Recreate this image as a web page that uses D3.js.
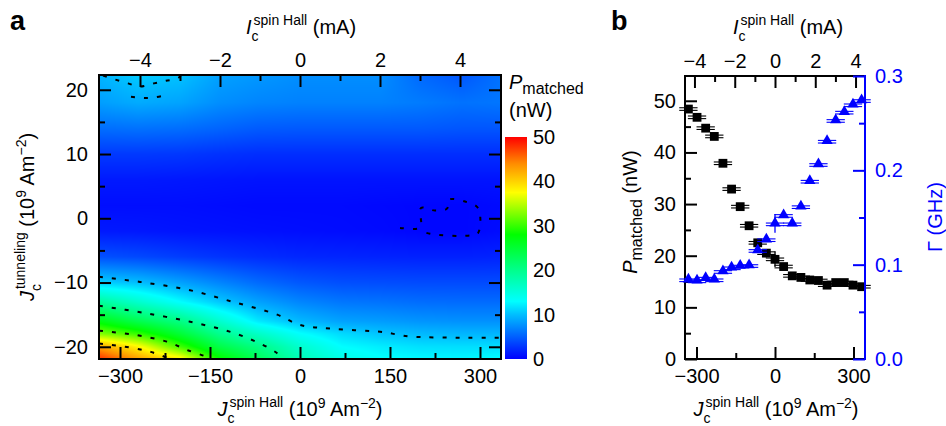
<!DOCTYPE html>
<html><head><meta charset="utf-8">
<script src="https://cdn.jsdelivr.net/npm/d3@7"></script>
<style>
body{margin:0;background:#fff;}
svg{display:block;}
</style></head><body>
<svg id="chart" width="946" height="426"></svg>
<script>
// ---------------- Panel a data ----------------
const jshGrid = [-335, -270, -200, -135, -70, 0, 70, 135, 200, 270, 335];
const jtunGrid = [22.3, 18, 14, 10, 6, 2, -2, -6, -10, -13, -16, -18, -20, -21.9];
const powerGrid = [
  [9.5, 10.6, 10.2, 8.5, 8, 7.5, 7.5, 7.5, 5.5, 4.5, 6],
  [8.3, 9.0, 8.6, 7.5, 7.0, 6.8, 6.8, 6.8, 6.5, 6.0, 6.2],
  [5.8, 6.0, 5.8, 5.3, 4.8, 4.7, 4.7, 4.7, 4.7, 4.5, 4.5],
  [3.0, 3.0, 2.9, 2.6, 2.4, 2.4, 2.4, 2.4, 2.4, 2.4, 2.4],
  [1.3, 1.3, 1.2, 1.1, 1.0, 1.0, 1.0, 1.0, 1.0, 1.0, 1.0],
  [0.7, 0.7, 0.7, 0.6, 0.5, 0.5, 0.5, 0.4, 0.3, 0.3, 0.5],
  [1.3, 1.2, 1.0, 0.9, 0.8, 0.7, 0.6, 0.5, 0.3, 0.3, 0.6],
  [4.2, 3.8, 3.2, 2.7, 2.3, 2.0, 1.9, 1.8, 1.7, 1.7, 1.8],
  [10.8, 10, 8.5, 7.0, 5.6, 4.6, 4.1, 4.0, 3.9, 3.9, 3.9],
  [19, 16, 13, 10.5, 8.5, 7, 6.2, 6, 5.7, 5.6, 5.6],
  [27, 23.5, 20.5, 16, 12, 9.7, 8.5, 8.2, 7.8, 7.6, 7.6],
  [33, 30, 25, 20, 16.5, 13.2, 11.3, 10.3, 9.8, 9.6, 9.6],
  [43, 38, 30.5, 24, 20.5, 16, 13, 12.2, 11.6, 11.5, 11.5],
  [48, 43, 38.5, 28.5, 23, 17.5, 14.5, 13.2, 12.8, 12.6, 13]
];
// dashed contour lines (J_spinHall, J_tunneling)
const contourTopA = [[-328.3,22.2],[-308.3,21.6],[-286.7,21.0],[-266.7,20.5],[-243.3,21.0],[-223.3,21.4],[-203.3,21.8],[-198.3,22.3]];
const contourTopB = [[-281.7,18.9],[-263.3,18.75],[-246.7,18.75],[-226.7,19.1]];
const contourLoop = [[166.7,-1.5],[196.7,-1.6],[201.7,-1.2],[201.7,1.6],[225,1.2],[245,1.5],[248.3,2.9],[275,2.6],[296.7,1.6],[296.7,-2.3],[280,-2.7],[216.7,-2.4],[196.7,-1.8]];
const contour10 = [[-335,-9.1],[-266.7,-9.9],[-188,-11.1],[-112,-13.0],[-38,-15.0],[0,-16.6],[55,-17.2],[138,-17.7],[162,-18.1],[183,-18.4],[278,-18.6],[335,-18.6]];
const contour20 = [[-335,-13.6],[-262,-14.7],[-183,-16.1],[-112,-17.8],[-62,-19.7],[-38,-21.0],[-28,-21.9]];
const contour30 = [[-335,-17.5],[-278,-18.1],[-222,-19.2],[-188,-20.5],[-155,-21.6],[-150,-21.9]];
const contour40 = [[-335,-19.5],[-278,-20.2],[-245,-20.9],[-222,-21.7],[-217,-21.9]];

const aXTicks = [-300, -150, 0, 150, 300];
const aXMinor = [-225, -75, 75, 225];
const aTopTicks = [-4, -2, 0, 2, 4];
const aTopMinor = [-3, -1, 1, 3];
const aYTicks = [-20, -10, 0, 10, 20];
const aYMinor = [-15, -5, 5, 15];
const cbTicks = [0, 10, 20, 30, 40, 50];
const cbStops = [0, 10, 13, 20, 28, 37.5, 44, 50];
const cbColors = ["#0000ff", "#00beff", "#00ffff", "#00ff8c", "#00ff00", "#ffff00", "#ff8c00", "#ff0000"];

// ---------------- Panel b data ----------------
const jSpinHall = [-331, -298, -265, -232, -199, -166, -133, -99, -66, -33, 0, 33, 66, 99, 133, 166, 199, 232, 265, 298, 331];
const pMatched = [48.4, 46.8, 44.7, 43.1, 37.9, 32.9, 29.5, 25.8, 22.5, 20.5, 19.3, 17.9, 16.1, 15.8, 15.3, 15.2, 14.3, 14.8, 14.8, 14.3, 14.0];
const pErr = [0.3, 0.3, 0.3, 0.3, 0.3, 0.3, 0.3, 0.3, 0.4, 0.8, 1.5, 0.4, 0.3, 0.3, 0.3, 0.3, 0.3, 0.3, 0.3, 0.3, 0.3];
const gammaGHz = [0.0845, 0.0834, 0.0862, 0.0845, 0.0933, 0.0972, 0.099, 0.0996, 0.1156, 0.127, 0.1438, 0.1527, 0.1438, 0.162, 0.189, 0.2067, 0.2314, 0.2534, 0.2622, 0.270, 0.2745];
const gammaErr = [0.002, 0.002, 0.002, 0.002, 0.002, 0.002, 0.002, 0.002, 0.002, 0.003, 0.01, 0.003, 0.002, 0.002, 0.002, 0.002, 0.002, 0.002, 0.002, 0.002, 0.002];
const jErr = [35, 35, 35, 35, 35, 35, 35, 35, 35, 35, 35, 35, 35, 35, 35, 35, 35, 35, 35, 35, 35];

const bXTicks = [-300, 0, 300];
const bXMinor = [-150, 150];
const bTopTicks = [-4, -2, 0, 2, 4];
const bTopMinor = [-3, -1, 1, 3];
const bYTicks = [0, 10, 20, 30, 40, 50];
const bYMinor = [5, 15, 25, 35, 45];
const bRTicks = [0, 0.1, 0.2, 0.3];
const bRMinor = [0.05, 0.15, 0.25];

// ---------------- Setup ----------------
const FONT = "'Liberation Sans', Arial, Helvetica, sans-serif";
const BLUE = "#0000ff";
const svg = d3.select("#chart");

function rich(parent, x, y, parts, opt = {}) {
  const t = parent.append("text")
    .attr("text-anchor", opt.anchor || "middle")
    .attr("font-size", opt.size || 20)
    .attr("fill", opt.fill || "#000")
    .attr("font-family", FONT);
  if (opt.rotate) t.attr("transform", `translate(${x},${y}) rotate(${opt.rotate})`);
  else t.attr("x", x).attr("y", y);
  let cur = 0;
  parts.forEach(p => {
    const off = p.off || 0;
    const ts = t.append("tspan").text(p.t).attr("dy", off - cur);
    cur = off;
    if (p.size) ts.attr("font-size", p.size);
    if (p.italic) ts.attr("font-style", "italic");
    if (p.dx) ts.attr("dx", p.dx);
  });
  return t;
}

function styleAxis(g, color, size) {
  g.select(".domain").remove();
  g.selectAll("line").attr("stroke", color).attr("stroke-width", 2);
  g.selectAll("text").attr("fill", color).attr("font-size", size || 20).attr("font-family", FONT);
  g.attr("font-family", FONT);
}

function axisPair(parent, gen, scale, major, minor, transform, color, fmt, pad, majorLen, minorLen) {
  const g1 = parent.append("g").attr("transform", transform)
    .call(gen(scale).tickValues(major).tickSize(-majorLen).tickPadding(pad).tickFormat(fmt));
  styleAxis(g1, color);
  if (minor && minor.length) {
    const g2 = parent.append("g").attr("transform", transform)
      .call(gen(scale).tickValues(minor).tickSize(-minorLen).tickFormat(""));
    styleAxis(g2, color);
  }
}

// ---------------- Panel a ----------------
const aL = 99, aR = 501, aT = 75, aB = 359;
const xA = d3.scaleLinear().domain([-335, 335]).range([aL, aR]);
const xATop = d3.scaleLinear().domain([-5.025, 5.025]).range([aL, aR]);
const yA = d3.scaleLinear().domain([-21.9, 22.3]).range([aB, aT]);
const color = d3.scaleLinear().domain(cbStops).range(cbColors).clamp(true);

function interpGrid(x, y) {
  let c = 0;
  while (c < jshGrid.length - 2 && x > jshGrid[c + 1]) c++;
  let r = 0;
  while (r < jtunGrid.length - 2 && y < jtunGrid[r + 1]) r++;
  const tx = Math.max(0, Math.min(1, (x - jshGrid[c]) / (jshGrid[c + 1] - jshGrid[c])));
  const ty = Math.max(0, Math.min(1, (y - jtunGrid[r]) / (jtunGrid[r + 1] - jtunGrid[r])));
  const v00 = powerGrid[r][c], v01 = powerGrid[r][c + 1];
  const v10 = powerGrid[r + 1][c], v11 = powerGrid[r + 1][c + 1];
  return (v00 * (1 - tx) + v01 * tx) * (1 - ty) + (v10 * (1 - tx) + v11 * tx) * ty;
}

const W = aR - aL, H = aB - aT;
const canvas = document.createElement("canvas");
canvas.width = W; canvas.height = H;
const ctx = canvas.getContext("2d");
const img = ctx.createImageData(W, H);
for (let j = 0; j < H; j++) {
  const yv = yA.invert(aT + j + 0.5);
  for (let i = 0; i < W; i++) {
    const xv = xA.invert(aL + i + 0.5);
    const c = d3.rgb(color(interpGrid(xv, yv)));
    const k = (j * W + i) * 4;
    img.data[k] = c.r; img.data[k + 1] = c.g; img.data[k + 2] = c.b; img.data[k + 3] = 255;
  }
}
ctx.putImageData(img, 0, 0);
svg.append("image").attr("x", aL).attr("y", aT).attr("width", W).attr("height", H)
  .attr("preserveAspectRatio", "none").attr("href", canvas.toDataURL());

svg.append("clipPath").attr("id", "clipA").append("rect").attr("x", aL).attr("y", aT).attr("width", W).attr("height", H);
const contourLine = d3.line().x(d => xA(d[0])).y(d => yA(d[1])).curve(d3.curveCatmullRom);
const cg = svg.append("g").attr("clip-path", "url(#clipA)");
[contourTopA, contourTopB, contourLoop, contour10, contour20, contour30, contour40].forEach(c => {
  cg.append("path").attr("d", contourLine(c)).attr("fill", "none").attr("stroke", "#000")
    .attr("stroke-width", 2).attr("stroke-dasharray", "4,9");
});

const fmtInt = d3.format("d");
axisPair(svg, d3.axisBottom, xA, aXTicks, aXMinor, `translate(0,${aB})`, "#000", fmtInt, 10, 12, 6);
axisPair(svg, d3.axisTop, xATop, aTopTicks, aTopMinor, `translate(0,${aT})`, "#000", fmtInt, 8, 12, 6);
axisPair(svg, d3.axisLeft, yA, aYTicks, aYMinor, `translate(${aL},0)`, "#000", fmtInt, 11, 12, 6);
axisPair(svg, d3.axisRight, yA, aYTicks, aYMinor, `translate(${aR},0)`, "#000", () => "", 0, 12, 6);
svg.append("rect").attr("x", aL).attr("y", aT).attr("width", W).attr("height", H)
  .attr("fill", "none").attr("stroke", "#000").attr("stroke-width", 2);

// colorbar
const cbL = 505, cbW = 22, cbT = 137, cbB = 359;
const cbScale = d3.scaleLinear().domain([0, 50]).range([cbB, cbT]);
const grad = svg.append("defs").append("linearGradient").attr("id", "cbGrad")
  .attr("x1", 0).attr("y1", 1).attr("x2", 0).attr("y2", 0);
cbStops.forEach((s, i) => grad.append("stop").attr("offset", s / 50).attr("stop-color", cbColors[i]));
svg.append("rect").attr("x", cbL).attr("y", cbT).attr("width", cbW).attr("height", cbB - cbT).attr("fill", "url(#cbGrad)");
const cbAxis = svg.append("g").attr("transform", `translate(${cbL + cbW},0)`)
  .call(d3.axisRight(cbScale).tickValues(cbTicks).tickSize(0).tickPadding(6).tickFormat(fmtInt));
styleAxis(cbAxis, "#000");

rich(svg, 509, 89, [{t: "P", italic: true}, {t: "matched", off: 5, size: 16}], {anchor: "start"});
rich(svg, 509, 117, [{t: "(nW)"}], {anchor: "start"});

// titles
const titleI = [{t: "I", italic: true}, {t: "c", off: 6.5, size: 14}, {t: "spin Hall", off: -9.5, size: 14, dx: -5}, {t: " (mA)", off: 0}];
const titleJsh = [{t: "J", italic: true}, {t: "c", off: 6.5, size: 14}, {t: "spin Hall", off: -9.5, size: 14, dx: -5},
  {t: " (10", off: 0}, {t: "9", off: -8, size: 14}, {t: " Am", off: 0}, {t: "\u22122", off: -8, size: 14}, {t: ")", off: 0}];
const titleJtun = [{t: "J", italic: true}, {t: "c", off: 6.5, size: 14}, {t: "tunneling", off: -9.5, size: 14, dx: -5},
  {t: " (10", off: 0}, {t: "9", off: -8, size: 14}, {t: " Am", off: 0}, {t: "\u22122", off: -8, size: 14}, {t: ")", off: 0}];

rich(svg, 301, 34, titleI);
rich(svg, 300, 416, titleJsh);
rich(svg, 34, 217, titleJtun, {rotate: -90});
svg.append("text").attr("x", 10).attr("y", 30).attr("font-size", 27).attr("font-weight", "bold").attr("font-family", FONT).text("a");

// ---------------- Panel b ----------------
const bL = 685, bR = 865, bT = 76, bB = 359;
const xB = d3.scaleLinear().domain([-344, 344]).range([bL, bR]);
const xBTop = d3.scaleLinear().domain([-4.47, 4.47]).range([bL, bR]);
const yBL = d3.scaleLinear().domain([0, 54.8]).range([bB, bT]);
const yBR = d3.scaleLinear().domain([0, 0.3]).range([bB, bT]);

axisPair(svg, d3.axisBottom, xB, bXTicks, bXMinor, `translate(0,${bB})`, "#000", fmtInt, 10, 12, 6);
axisPair(svg, d3.axisTop, xBTop, bTopTicks, bTopMinor, `translate(0,${bT})`, "#000", fmtInt, 8, 12, 6);
axisPair(svg, d3.axisLeft, yBL, bYTicks, bYMinor, `translate(${bL},0)`, "#000", fmtInt, 9, 12, 6);
svg.append("line").attr("x1", bL).attr("x2", bR).attr("y1", bB).attr("y2", bB).attr("stroke", "#000").attr("stroke-width", 2);
svg.append("line").attr("x1", bL).attr("x2", bR).attr("y1", bT).attr("y2", bT).attr("stroke", "#000").attr("stroke-width", 2);
svg.append("line").attr("x1", bL).attr("x2", bL).attr("y1", bT - 1).attr("y2", bB + 1).attr("stroke", "#000").attr("stroke-width", 2);

// data: black squares
const gP = svg.append("g");
jSpinHall.forEach((j, i) => {
  const cx = xB(j), cy = yBL(pMatched[i]);
  const x0 = xB(j - jErr[i]), x1 = xB(j + jErr[i]);
  [-1.3, 1.3].forEach(o => gP.append("line").attr("x1", x0).attr("x2", x1).attr("y1", cy + o).attr("y2", cy + o)
    .attr("stroke", "#000").attr("stroke-width", 1.1));
  gP.append("line").attr("x1", cx).attr("x2", cx).attr("y1", yBL(pMatched[i] - pErr[i])).attr("y2", yBL(pMatched[i] + pErr[i]))
    .attr("stroke", "#000").attr("stroke-width", 1.3);
  gP.append("rect").attr("x", cx - 4.4).attr("y", cy - 4.4).attr("width", 8.8).attr("height", 8.8).attr("fill", "#000");
});
// blue triangles
const gG = svg.append("g");
const tri = d3.symbol().type(d3.symbolTriangle).size(55);
jSpinHall.forEach((j, i) => {
  const cx = xB(j), cy = yBR(gammaGHz[i]);
  const x0 = xB(j - jErr[i]), x1 = xB(j + jErr[i]);
  [-1.3, 1.3].forEach(o => gG.append("line").attr("x1", x0).attr("x2", x1).attr("y1", cy + 1 + o).attr("y2", cy + 1 + o)
    .attr("stroke", BLUE).attr("stroke-width", 1.1));
  gG.append("line").attr("x1", cx).attr("x2", cx).attr("y1", yBR(gammaGHz[i] - gammaErr[i])).attr("y2", yBR(gammaGHz[i] + gammaErr[i]))
    .attr("stroke", BLUE).attr("stroke-width", 1.3);
  gG.append("path").attr("d", tri()).attr("transform", `translate(${cx},${cy})`).attr("fill", BLUE);
});

axisPair(svg, d3.axisRight, yBR, bRTicks, bRMinor, `translate(${bR},0)`, BLUE, d3.format(".1f"), 10, 12, 6);
svg.append("line").attr("x1", bR).attr("x2", bR).attr("y1", bT - 1).attr("y2", bB + 1).attr("stroke", BLUE).attr("stroke-width", 2);

rich(svg, 788, 34, titleI);
rich(svg, 776, 416, titleJsh);
rich(svg, 637, 212, [{t: "P", italic: true}, {t: "matched", off: 5, size: 16}, {t: " (nW)", off: 0}], {rotate: -90});
rich(svg, 942, 217, [{t: "\u0393 (GHz)"}], {rotate: -90, fill: BLUE});
svg.append("text").attr("x", 611).attr("y", 30).attr("font-size", 27).attr("font-weight", "bold").attr("font-family", FONT).text("b");
</script>
</body></html>
